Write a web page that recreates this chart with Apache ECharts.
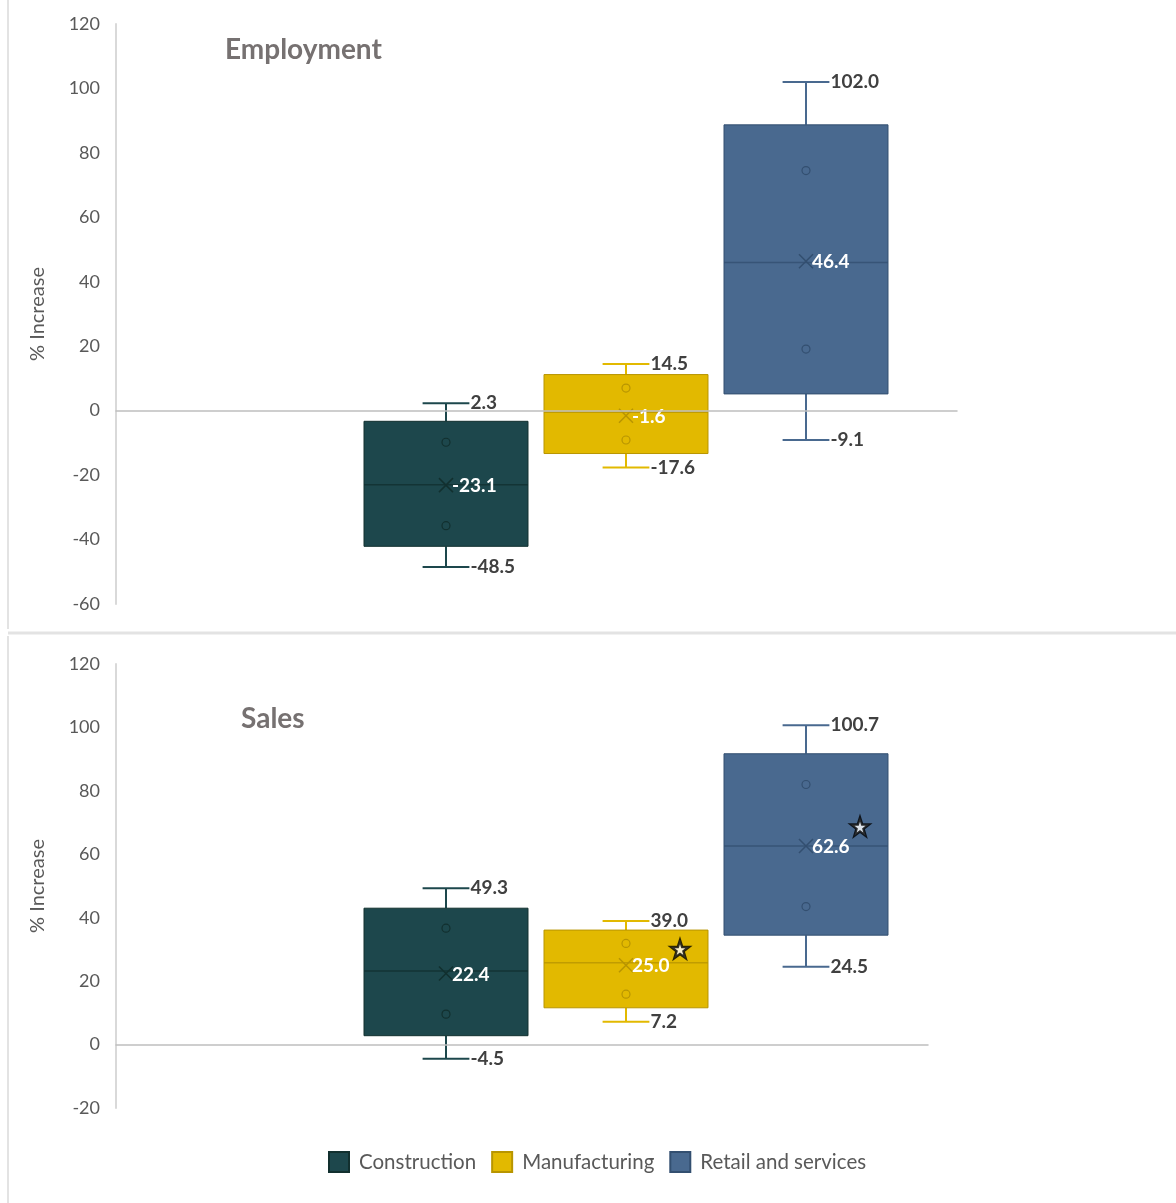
<!DOCTYPE html>
<html>
<head>
<meta charset="utf-8">
<script src="https://cdn.jsdelivr.net/npm/echarts@6/dist/echarts.min.js"></script>
<style>
  html, body { margin: 0; padding: 0; background: #ffffff; }
  #chart { width: 1176px; height: 1203px; }
</style>
</head>
<body>
<div id="chart"></div>
<script>
// Sectors shown in both panels
const categories = ['Construction', 'Manufacturing', 'Retail and services'];

// Employment: % increase distribution per sector
const empMin    = [-48.5, -17.6, -9.1];
const empQ1     = [-42.1, -13.3, 5.2];
const empMedian = [-23.0, -0.5, 46.0];
const empQ3     = [-3.3, 11.2, 88.7];
const empMax    = [2.3, 14.5, 102.0];
const empMean   = [-23.1, -1.6, 46.4];
const empInnerA = [-9.8, 7.0, 74.5];
const empInnerB = [-35.7, -9.1, 19.1];

// Sales: % increase distribution per sector
const salesMin    = [-4.5, 7.2, 24.5];
const salesQ1     = [2.8, 11.6, 34.5];
const salesMedian = [23.2, 25.8, 62.6];
const salesQ3     = [43.0, 36.1, 91.7];
const salesMax    = [49.3, 39.0, 100.7];
const salesMean   = [22.4, 25.0, 62.6];
const salesInnerA = [36.7, 31.9, 82.0];
const salesInnerB = [9.6, 15.9, 43.5];
const salesStar   = [null, 30.1, 68.7];

// Y axis ticks
const empTicks = { min: -60, max: 120, step: 20 };
const salesTicks = { min: -20, max: 120, step: 20 };

const fills = ['#1d474c', '#e2b900', '#49698f'];
const darks = ['#12302f', '#b89500', '#334f70'];

const FONT = 'Lato, "Open Sans", sans-serif';
const STAR_OFFSET = 0.3;

function boxData(i, mn, q1, md, q3, mx, mean, a, b) {
  return [[i, mn[i], q1[i], md[i], q3[i], mx[i], mean[i], a[i], b[i]]];
}

function renderBox(params, api) {
  const si = params.seriesIndex % 3;
  const fill = fills[si], dark = darks[si];
  const x = api.value(0);
  const step = api.size([1, 0])[0];
  const bw = step * 0.911, capW = step * 0.26;
  const pt = (v) => api.coord([x, v]);
  const cx = pt(0)[0];
  const yMin = pt(api.value(1))[1], yQ1 = pt(api.value(2))[1], yMed = pt(api.value(3))[1];
  const yQ3 = pt(api.value(4))[1], yMax = pt(api.value(5))[1], yMean = pt(api.value(6))[1];
  const yA = pt(api.value(7))[1], yB = pt(api.value(8))[1];
  const lineStyle = { stroke: fill, lineWidth: 2 };
  const valueFont = 'bold 19px ' + FONT;
  const children = [
    { type: 'line', shape: { x1: cx, y1: yMax, x2: cx, y2: yQ3 }, style: lineStyle },
    { type: 'line', shape: { x1: cx, y1: yQ1, x2: cx, y2: yMin }, style: lineStyle },
    { type: 'line', shape: { x1: cx - capW / 2, y1: yMax, x2: cx + capW / 2, y2: yMax }, style: lineStyle },
    { type: 'line', shape: { x1: cx - capW / 2, y1: yMin, x2: cx + capW / 2, y2: yMin }, style: lineStyle },
    { type: 'rect', shape: { x: cx - bw / 2, y: yQ3, width: bw, height: yQ1 - yQ3 },
      style: { fill: fill, stroke: dark, lineWidth: 1 } },
    { type: 'line', shape: { x1: cx - bw / 2, y1: yMed, x2: cx + bw / 2, y2: yMed },
      style: { stroke: dark, lineWidth: 1.5, opacity: 0.8 } },
    { type: 'circle', shape: { cx: cx, cy: yA, r: 4 }, style: { fill: 'none', stroke: dark, lineWidth: 1.2 } },
    { type: 'circle', shape: { cx: cx, cy: yB, r: 4 }, style: { fill: 'none', stroke: dark, lineWidth: 1.2 } },
    { type: 'line', shape: { x1: cx - 7, y1: yMean - 7, x2: cx + 7, y2: yMean + 7 }, style: { stroke: dark, lineWidth: 1.5 } },
    { type: 'line', shape: { x1: cx - 7, y1: yMean + 7, x2: cx + 7, y2: yMean - 7 }, style: { stroke: dark, lineWidth: 1.5 } },
    { type: 'text', style: { text: api.value(5).toFixed(1), x: cx + capW / 2 + 1, y: yMax,
      fill: '#404040', font: valueFont, align: 'left', verticalAlign: 'middle' } },
    { type: 'text', style: { text: api.value(1).toFixed(1), x: cx + capW / 2 + 1, y: yMin,
      fill: '#404040', font: valueFont, align: 'left', verticalAlign: 'middle' } },
    { type: 'text', style: { text: api.value(6).toFixed(1), x: cx + 6, y: yMean + 1,
      fill: '#ffffff', font: valueFont, align: 'left', verticalAlign: 'middle' } }
  ];
  return { type: 'group', children: children };
}

function yAxisFor(gridIndex, t) {
  return {
    type: 'value', gridIndex: gridIndex, min: t.min, max: t.max, interval: t.step,
    name: '% Increase', nameLocation: 'middle', nameGap: 68,
    nameTextStyle: { color: '#595959', fontSize: 20, fontFamily: FONT },
    axisLine: { show: true, onZero: false, lineStyle: { color: '#d9d9d9', width: 2 } },
    axisTick: { show: false },
    splitLine: { show: false },
    axisLabel: { color: '#595959', fontSize: 18, fontFamily: FONT, margin: 16 }
  };
}

function xAxisFor(gridIndex, max) {
  return {
    type: 'value', gridIndex: gridIndex, min: -1.8333, max: max, z: 3,
    axisLine: { show: true, onZero: true, lineStyle: { color: '#bfbfbf', width: 1.5 } },
    axisTick: { show: false }, axisLabel: { show: false }, splitLine: { show: false }
  };
}

const series = [];
categories.forEach((name, i) => {
  series.push({
    type: 'custom', name: name, xAxisIndex: 0, yAxisIndex: 0,
    itemStyle: { color: fills[i], borderColor: darks[i], borderWidth: 1 },
    encode: { x: 0, y: [1, 2, 3, 4, 5] },
    renderItem: renderBox,
    data: boxData(i, empMin, empQ1, empMedian, empQ3, empMax, empMean, empInnerA, empInnerB)
  });
});
categories.forEach((name, i) => {
  series.push({
    type: 'custom', name: name, xAxisIndex: 1, yAxisIndex: 1,
    itemStyle: { color: fills[i], borderColor: darks[i], borderWidth: 1 },
    encode: { x: 0, y: [1, 2, 3, 4, 5] },
    renderItem: renderBox,
    data: boxData(i, salesMin, salesQ1, salesMedian, salesQ3, salesMax, salesMean, salesInnerA, salesInnerB)
  });
});
series.push({
  type: 'scatter', name: 'star', xAxisIndex: 1, yAxisIndex: 1, z: 5,
  symbol: 'path://M50,0 L61.8,35.1 L98.9,35.4 L69.1,57.6 L80.2,93 L50,71.6 L19.8,93 L30.9,57.6 L1.1,35.4 L38.2,35.1 Z',
  symbolSize: 18,
  itemStyle: { color: '#ffffff', borderColor: '#000000', borderWidth: 2.5 },
  silent: true,
  data: salesStar.map((v, i) => (v === null ? null : [i + STAR_OFFSET, v])).filter(d => d)
});

const chart = echarts.init(document.getElementById('chart'), null, { renderer: 'canvas' });
chart.setOption({
  animation: false,
  backgroundColor: '#ffffff',
  title: [
    { text: 'Employment', left: 225, top: 36, padding: 0,
      textStyle: { color: '#767171', fontSize: 28, fontWeight: 'bold', fontFamily: FONT } },
    { text: 'Sales', left: 241, top: 705, padding: 0,
      textStyle: { color: '#767171', fontSize: 28, fontWeight: 'bold', fontFamily: FONT } }
  ],
  legend: {
    data: categories, left: 328, top: 1151, padding: 0,
    itemWidth: 20, itemHeight: 20, itemGap: 15,
    icon: 'rect',
    textStyle: { color: '#595959', fontSize: 20.5, fontFamily: FONT, padding: [0, 0, 0, 5] }
  },
  grid: [
    { left: 116, right: 219, top: 24, height: 580 },
    { left: 116, right: 248, top: 664, height: 444 }
  ],
  xAxis: [xAxisFor(0, 2.8389), xAxisFor(1, 2.6778)],
  yAxis: [yAxisFor(0, empTicks), yAxisFor(1, salesTicks)],
  graphic: [
    { type: 'line', shape: { x1: 8, y1: 0, x2: 8, y2: 629 }, style: { stroke: '#e3e3e3', lineWidth: 2 } },
    { type: 'line', shape: { x1: 8, y1: 633, x2: 1176, y2: 633 }, style: { stroke: '#e3e3e3', lineWidth: 3 } },
    { type: 'line', shape: { x1: 8, y1: 636, x2: 8, y2: 1203 }, style: { stroke: '#e3e3e3', lineWidth: 2 } }
  ],
  series: series
});
</script>
</body>
</html>
